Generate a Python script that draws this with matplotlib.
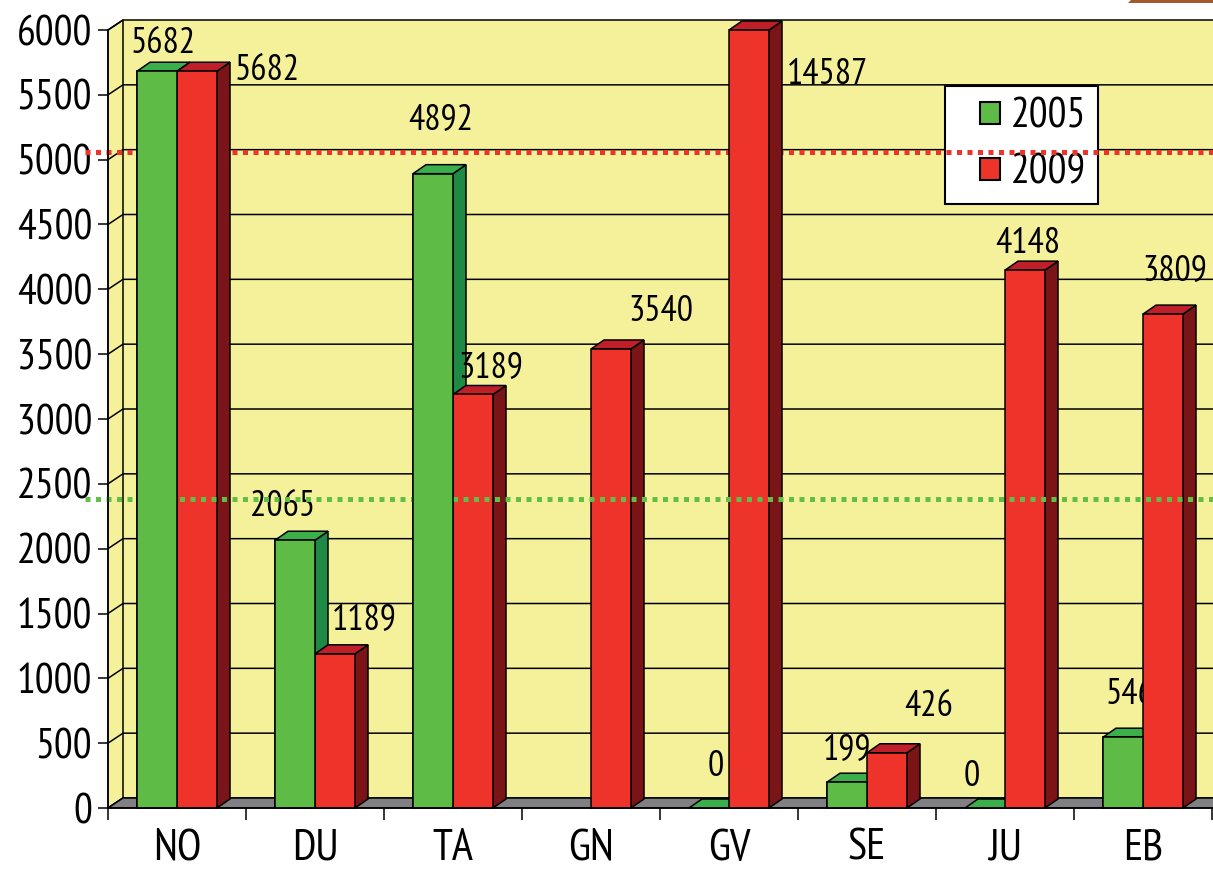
import numpy as np
import matplotlib.pyplot as plt
from matplotlib.patches import Polygon, Rectangle, Patch
from matplotlib.legend_handler import HandlerPatch

plt.rcParams['font.family'] = ['PT Sans Narrow', 'Open Sans Condensed', 'Liberation Sans', 'DejaVu Sans']

categories = ['NO', 'DU', 'TA', 'GN', 'GV', 'SE', 'JU', 'EB']
values_2005 = [5682, 2065, 4892, None, 0, 199, 0, 546]
values_2009 = [5682, 1189, 3189, 3540, 14587, 426, 4148, 3809]
ref_2005 = 2385
ref_2009 = 5060
yticks = list(range(0, 6001, 500))

# label offsets from the bar's top centre, in pixels (right, up)
offsets_2005 = [(6, 28), (-12, 34), (8, 54), None, (7, 42), (0, 33), (-13, 32), (7, 43)]
offsets_2009 = [(70, 1), (29, 34), (18, 27), (50, 37), (78, -44), (42, 46), (3, 27), (12, 44)]

GREEN = ('#5EBB46', '#3AAF4A', '#1E8A45')
RED = ('#EE332B', '#BE1F28', '#7A1416')
WALL = '#F5F19B'
FLOOR = '#808084'

W, H = 1213, 872
YMAX = 6000
XMAX = 8.3
fig = plt.figure(figsize=(W / 100, H / 100), dpi=100)
ax = fig.add_axes([108 / W, 64 / H, XMAX * 138 / W, 778 / H])
ax.set_xlim(0, XMAX)
ax.set_ylim(0, YMAX)

# pixel -> data conversion for the fake 3d depth
px_x = 1 / 138
px_y = YMAX / 778
WX, WY = 15 * px_x, 10 * px_y
BX, BY = 13 * px_x, 9 * px_y
BW = 40 * px_x

edge = dict(edgecolor='black', linewidth=1.1, joinstyle='miter', clip_on=False)

# walls and floor
ax.add_patch(Polygon([(WX, WY), (XMAX, WY), (XMAX, YMAX + WY), (WX, YMAX + WY)],
                     facecolor=WALL, edgecolor='none', clip_on=False, zorder=0.3))
ax.add_patch(Polygon([(0, 0), (WX, WY), (WX, YMAX + WY), (0, YMAX)],
                     facecolor=WALL, zorder=0.3, **edge))
for v in yticks:
    ax.plot([0, WX, XMAX], [v, v + WY, v + WY], color='black', lw=1.1,
            clip_on=False, zorder=0.4)
ax.add_patch(Polygon([(0, 0), (WX, WY), (XMAX, WY), (XMAX, 0)],
                     facecolor=FLOOR, zorder=0.5, **edge))


def draw_bar(x0, x1, h, colors, z, front_only=False):
    front, top, side = colors
    if not front_only:
        ax.add_patch(Polygon([(x1, 0), (x1 + BX, BY), (x1 + BX, h + BY), (x1, h)],
                             facecolor=side, zorder=z, **edge))
        ax.add_patch(Polygon([(x0, h), (x0 + BX, h + BY), (x1 + BX, h + BY), (x1, h)],
                             facecolor=top, zorder=z, **edge))
    if h > 0:
        ax.add_patch(Rectangle((x0, 0), x1 - x0, h, facecolor=front, zorder=z, **edge))


for i in range(len(categories)):
    c = i + 0.5
    v5, v9 = values_2005[i], values_2009[i]
    if v5 is not None:
        h5 = min(v5, YMAX)
        draw_bar(c - BW, c, h5, GREEN, 2)
        draw_bar(c - BW, c, h5, GREEN, 6, front_only=True)
        ax.annotate(str(v5), xy=(c - BW / 2, h5), xytext=offsets_2005[i],
                    textcoords='offset pixels', ha='center', va='center',
                    fontsize=26, zorder=3.5, annotation_clip=False)
    h9 = min(v9, YMAX)
    draw_bar(c, c + BW, h9, RED, 4)
    ax.annotate(str(v9), xy=(c + BW / 2, h9), xytext=offsets_2009[i],
                textcoords='offset pixels', ha='center', va='center',
                fontsize=26, zorder=7, annotation_clip=False)

# dotted reference lines
ax.plot([-23 * px_x, XMAX], [ref_2009, ref_2009], color='#EE332B', lw=3.6,
        dashes=(1, 1.1), dash_capstyle='butt', clip_on=False, zorder=3)
ax.plot([-23 * px_x, XMAX], [ref_2005, ref_2005], color='#63BE46', lw=3.6,
        dashes=(1, 1.1), dash_capstyle='butt', clip_on=False, zorder=5)

# axes
for s in ['top', 'right']:
    ax.spines[s].set_visible(False)
for s in ['left', 'bottom']:
    ax.spines[s].set_linewidth(1.1)
    ax.spines[s].set_zorder(6.5)
ax.set_yticks(yticks)
ax.tick_params(axis='y', length=7.2, width=1.1, labelsize=30, pad=4.3)
ax.set_xticks(range(9))
ax.set_xticklabels([])
ax.set_xticks(np.arange(len(categories)) + 0.5, minor=True)
ax.set_xticklabels(categories, minor=True)
ax.tick_params(axis='x', which='major', length=8.6, width=1.1)
ax.tick_params(axis='x', which='minor', length=0, labelsize=32, pad=15)


class SquareHandler(HandlerPatch):
    def create_artists(self, legend, orig_handle, xdescent, ydescent,
                       width, height, fontsize, trans):
        sw, sh = 15, 16
        p = Rectangle((-xdescent + width - sw, -ydescent + (height - sh) / 2), sw, sh,
                      facecolor=orig_handle.get_facecolor(), edgecolor='black',
                      linewidth=1.5, transform=trans)
        return [p]


leg = ax.legend(handles=[Patch(facecolor=GREEN[0]), Patch(facecolor=RED[0])],
                labels=['2005', '2009'], handler_map={Patch: SquareHandler()},
                loc='upper left', bbox_to_anchor=(945 / W, 1 - 86 / H),
                bbox_transform=fig.transFigure, borderaxespad=0, fontsize=30,
                handlelength=1.05, handletextpad=0.25, borderpad=0.28,
                labelspacing=0.4, fancybox=False, edgecolor='black', framealpha=1)
leg.get_frame().set_linewidth(1.5)
leg.set_zorder(2.2)

# corner of a neighbouring shape, cut off at the top right
fig.add_artist(Polygon([(1131 / W, 1), (1, 1), (1, (H - 3) / H), (1128 / W, (H - 3) / H)],
                       transform=fig.transFigure, facecolor='#A45A28', edgecolor='none'))

fig.savefig('out.png', dpi=100)
